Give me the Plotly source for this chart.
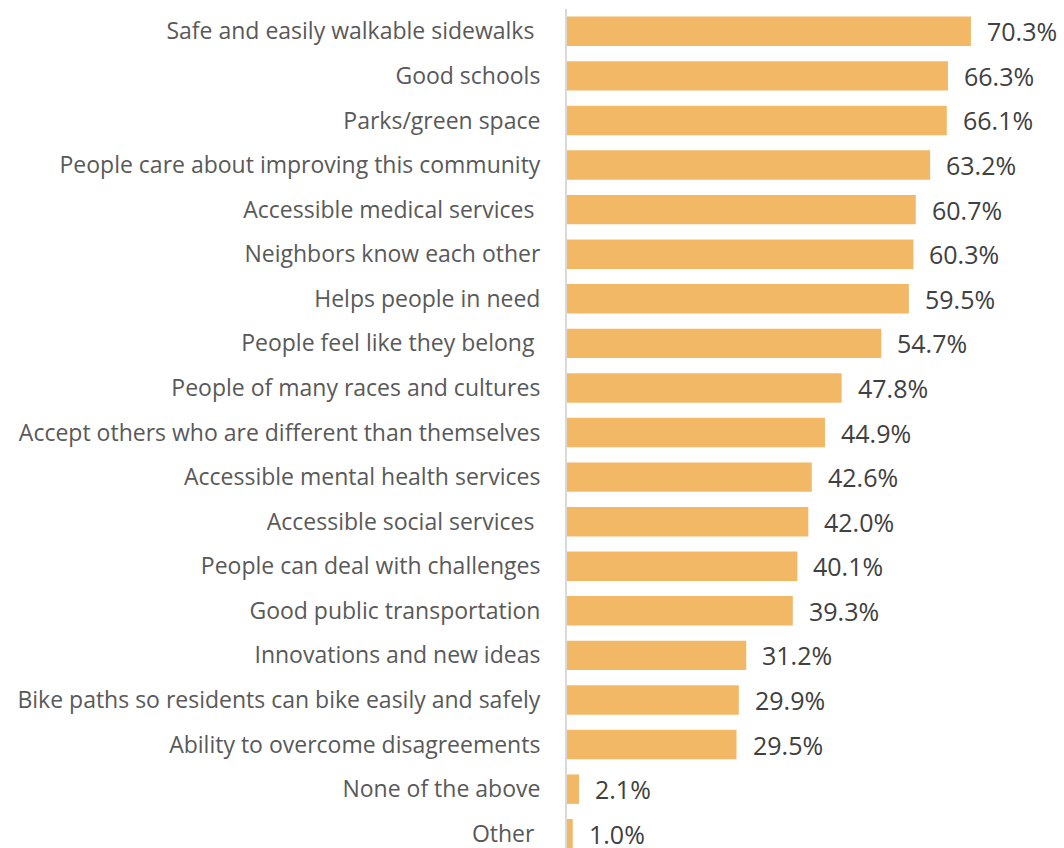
import plotly.graph_objects as go

# Survey results: share of respondents selecting each community attribute
categories = [
    "Safe and easily walkable sidewalks\u00a0",
    "Good schools",
    "Parks/green space",
    "People care about improving this community",
    "Accessible medical services\u00a0",
    "Neighbors know each other",
    "Helps people in need",
    "People feel like they belong\u00a0",
    "People of many races and cultures",
    "Accept others who are different than themselves",
    "Accessible mental health services",
    "Accessible social services\u00a0",
    "People can deal with challenges",
    "Good public transportation",
    "Innovations and new ideas",
    "Bike paths so residents can bike easily and safely",
    "Ability to overcome disagreements",
    "None of the above",
    "Other\u00a0",
]
values = [70.3, 66.3, 66.1, 63.2, 60.7, 60.3, 59.5, 54.7, 47.8, 44.9,
          42.6, 42.0, 40.1, 39.3, 31.2, 29.9, 29.5, 2.1, 1.0]
value_labels = [f"{v:.1f}%" for v in values]

BAR_COLOR = "#F2B866"
LABEL_COLOR = "#595959"
VALUE_COLOR = "#404040"
FONT = "Open Sans"

fig = go.Figure(
    go.Bar(
        x=values,
        y=list(range(len(categories))),
        orientation="h",
        marker=dict(color=BAR_COLOR, line=dict(width=0)),
        hoverinfo="skip",
    )
)

# value labels placed just past the end of each bar
for i, (v, t) in enumerate(zip(values, value_labels)):
    fig.add_annotation(
        x=v, y=i, text=t, xref="x", yref="y",
        xanchor="left", yanchor="middle", xshift=14, showarrow=False,
        font=dict(family=FONT, size=25, color=VALUE_COLOR),
    )

fig.update_layout(
    width=1064,
    height=848,
    margin=dict(l=567, r=0, t=9, b=0),
    paper_bgcolor="white",
    plot_bgcolor="white",
    bargap=0.34,
    showlegend=False,
    font=dict(family=FONT),
)
fig.update_xaxes(
    range=[0, 86.5],
    showgrid=False,
    zeroline=False,
    showticklabels=False,
    showline=False,
    ticks="",
)
fig.update_yaxes(
    range=[18.32, -0.5],
    tickmode="array",
    tickvals=list(range(len(categories))),
    ticktext=categories,
    tickfont=dict(family=FONT, size=23, color=LABEL_COLOR),
    ticklabeloverflow="allow",
    showgrid=False,
    zeroline=False,
    showline=True,
    linecolor="#D9D9D9",
    linewidth=2,
    ticks="",
    ticklabelstandoff=20,
)

fig.write_html("out.html")
